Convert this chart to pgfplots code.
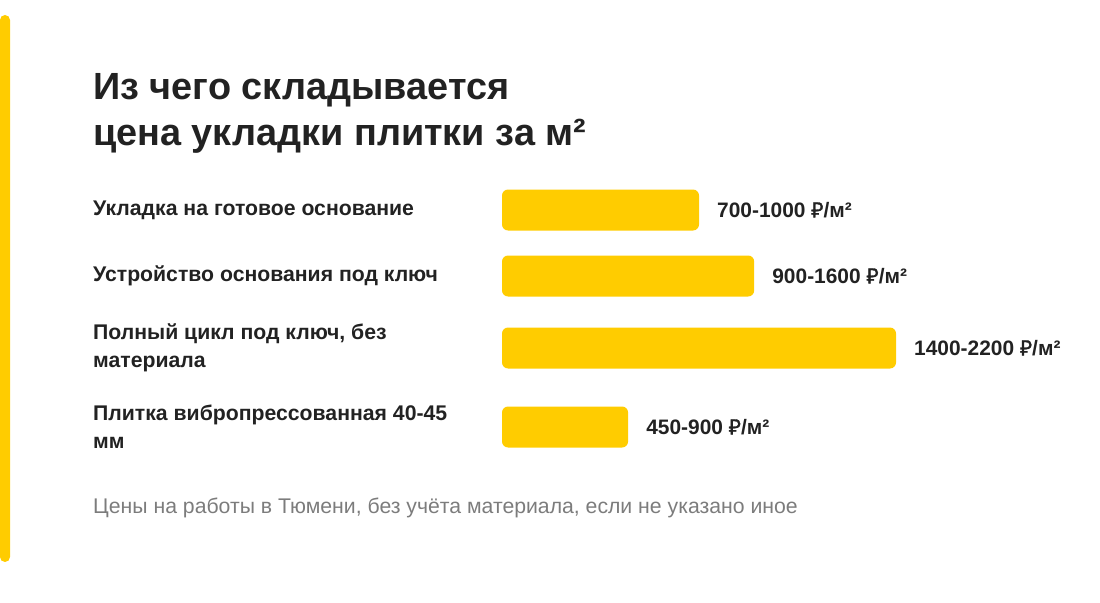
\documentclass[border=0pt]{standalone}
\usepackage{pgfplots}
\pgfplotsset{compat=1.18}
\usepackage{fontspec}
\setmainfont{Liberation Sans}
\newfontfamily\rubfont{Noto Sans}[FakeBold=1.5]
\newcommand{\rub}{{\rubfont ₽}}
\definecolor{barYellow}{HTML}{FFCC00}
\definecolor{inkDark}{HTML}{222222}
\definecolor{noteGrey}{HTML}{7C7C7C}
\begin{document}
\begin{tikzpicture}
% picture frame: 1100 x 603 px, 1 px = 1 bp, y measured from the top as 603-y
\path[use as bounding box] (0bp,0bp) rectangle (1100bp,603bp);
% left accent stripe
\fill[barYellow, rounded corners=5bp] (0bp,41bp) rectangle (10bp,588bp);
% title
\node[anchor=base west, inner sep=0pt, text=inkDark,
      font=\fontsize{38}{46}\bfseries\selectfont] at (93bp,503bp) {Из чего складывается};
\node[anchor=base west, inner sep=0pt, text=inkDark,
      font=\fontsize{38}{46}\bfseries\selectfont] at (93bp,457bp) {цена укладки плитки за м²};
\begin{axis}[
	at={(699bp,283bp)}, anchor=center,
	scale only axis,
	width=394bp, height=280bp,
	xmin=0, xmax=100,
	ymin=180, ymax=460,
	y dir=reverse,
	xbar,
	bar width=41,
	axis line style={draw=none},
	xtick=\empty,
	ytick={210,276,348,427},
	yticklabels={
		Укладка на готовое основание,
		Устройство основания под ключ,
		{Полный цикл под ключ, без\\материала},
		{Плитка вибропрессованная 40-45\\мм}},
	major tick length=0pt,
	tick style={draw=none},
	yticklabel style={anchor=west, xshift=-409bp, inner sep=0pt, align=left,
		text=inkDark, font=\fontsize{21.3}{28}\bfseries\selectfont},
	clip=false,
	point meta=explicit symbolic,
	nodes near coords,
	nodes near coords style={anchor=west, xshift=18bp, inner sep=0pt,
		text=inkDark, font=\fontsize{21}{24}\bfseries\selectfont},
	]
	% bar length relative to the longest bar (%)
	\addplot[fill=barYellow, draw=none, rounded corners=6bp] coordinates {
		(50,210) [700-1000 \rub/м²]
		(64,276) [900-1600 \rub/м²]
		(100,348) [1400-2200 \rub/м²]
		(32,427) [450-900 \rub/м²]
	};
\end{axis}
% footnote
\node[anchor=base west, inner sep=0pt, text=noteGrey,
      font=\fontsize{21.3}{24}\selectfont] at (93bp,89bp)
      {Цены на работы в Тюмени, без учёта материала, если не указано иное};
\end{tikzpicture}
\end{document}
